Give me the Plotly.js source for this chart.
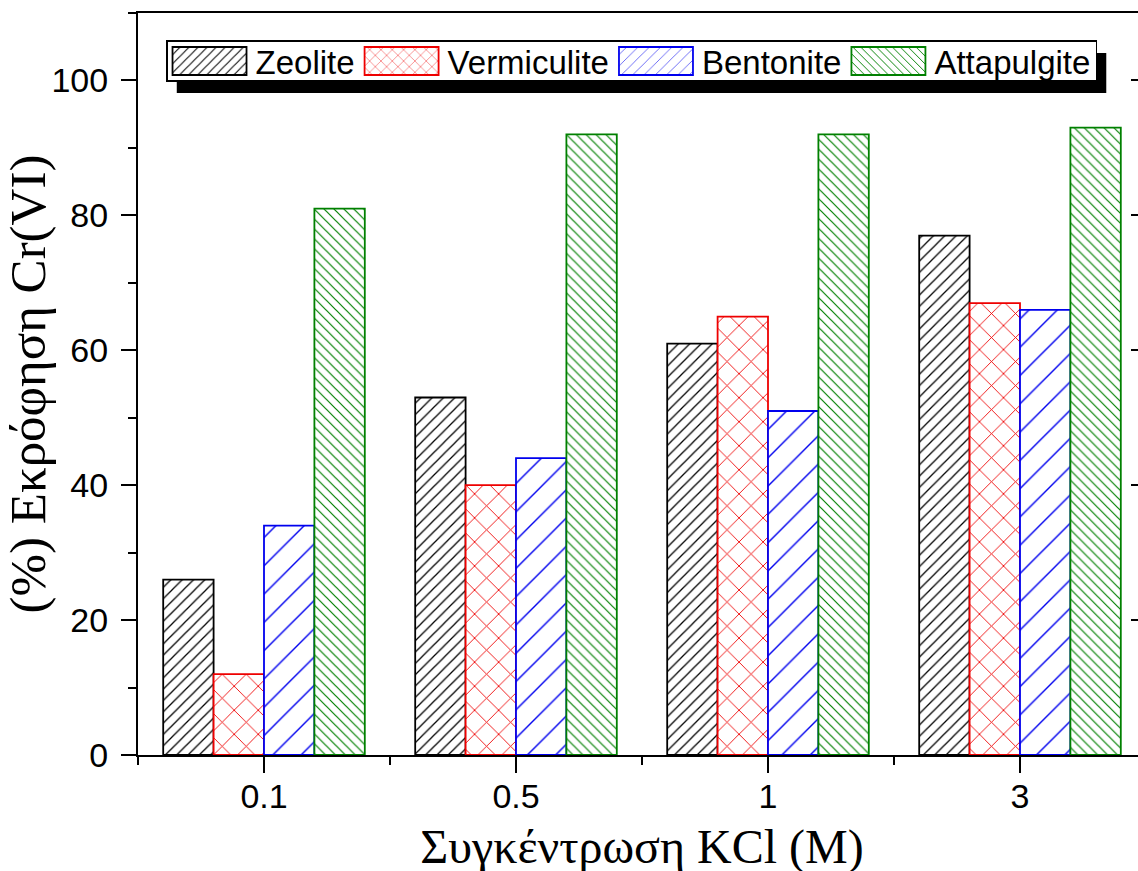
<!DOCTYPE html>
<html>
<head>
<meta charset="utf-8">
<script src="https://cdn.plot.ly/plotly-3.0.1.min.js"></script>
<style>
html,body{margin:0;padding:0;overflow:hidden;background:#fff;}
#chart{width:1146px;height:874px;}
</style>
</head>
<body>
<div id="chart"></div>
<script>
const categories = ["0.1", "0.5", "1", "3"];
const seriesNames = ["Zeolite", "Vermiculite", "Bentonite", "Attapulgite"];
const zeolite = [26, 53, 61, 77];
const vermiculite = [12, 40, 65, 67];
const bentonite = [34, 44, 51, 66];
const attapulgite = [81, 92, 92, 93];
const yTicks = [0, 20, 40, 60, 80, 100];

const seriesValues = [zeolite, vermiculite, bentonite, attapulgite];
const colors = ["#000000", "#ee0000", "#0000ee", "#008000"];
const shapes = ["/", "x", "/", "\\"];
const sizes = [8, 17, 20, 7];
const solid = [0.16, 0.1, 0.07, 0.17];
const xIdx = categories.map((c, i) => i);

const traces = seriesValues.map((vals, k) => ({
  type: "bar",
  name: seriesNames[k],
  x: xIdx,
  y: vals,
  marker: {
    color: "#ffffff",
    line: {color: colors[k], width: 1.8},
    pattern: {shape: shapes[k], fgcolor: colors[k], bgcolor: "#ffffff", size: sizes[k], solidity: solid[k], fgopacity: 1}
  }
}));

// invisible helper to host the right-hand axis
traces.push({type: "scatter", x: [], y: [], yaxis: "y2", showlegend: false, hoverinfo: "skip"});

const sans = "Liberation Sans, Arial, sans-serif";
const serif = "Liberation Serif, Times New Roman, serif";

const layout = {
  width: 1146, height: 874,
  margin: {l: 138, r: 0, t: 13, b: 119},
  paper_bgcolor: "#ffffff", plot_bgcolor: "#ffffff",
  barmode: "group", bargap: 0.2, bargroupgap: 0,
  showlegend: true,
  legend: {
    orientation: "h", x: 0.0278, y: 0.975, xanchor: "left", yanchor: "top",
    bgcolor: "#ffffff", bordercolor: "#000000", borderwidth: 1.5,
    font: {family: sans, size: 33, color: "#000"},
    itemwidth: 78, tracegroupgap: 0, traceorder: "normal"
  },
  xaxis: {
    range: [-0.5, 3.5], tickmode: "array", tickvals: xIdx, ticktext: categories,
    showline: true, linecolor: "#000", linewidth: 2, mirror: true,
    ticks: "outside", ticklen: 16, tickwidth: 2, tickcolor: "#000",
    minor: {tickmode: "linear", tick0: 0.5, dtick: 1, ticks: "outside", ticklen: 8, tickwidth: 2, tickcolor: "#000"},
    showgrid: false, zeroline: false, ticklabelstandoff: -6,
    tickfont: {family: sans, size: 34, color: "#000"},
    title: {text: "Συγκέντρωση KCl (M)", font: {family: serif, size: 48, color: "#000"}, standoff: 24},
    automargin: false
  },
  yaxis: {
    range: [0, 110], tickmode: "array", tickvals: yTicks,
    showline: true, linecolor: "#000", linewidth: 2,
    ticks: "outside", ticklen: 15, tickwidth: 2, tickcolor: "#000",
    minor: {tickmode: "linear", tick0: 0, dtick: 10, ticks: "outside", ticklen: 8, tickwidth: 2, tickcolor: "#000"},
    showgrid: false, zeroline: false, ticklabelstandoff: 6,
    tickfont: {family: sans, size: 34, color: "#000"},
    title: {text: "(%) Εκρόφηση Cr(VI)", font: {family: serif, size: 51, color: "#000"}, standoff: 10},
    automargin: false
  },
  yaxis2: {
    overlaying: "y", side: "right", anchor: "x", range: [0, 110],
    tickmode: "array", tickvals: yTicks, showticklabels: false,
    showline: true, linecolor: "#000", linewidth: 2,
    ticks: "inside", ticklen: 15, tickwidth: 2, tickcolor: "#000",
    minor: {tickmode: "linear", tick0: 0, dtick: 10, ticks: "inside", ticklen: 8, tickwidth: 2, tickcolor: "#000"},
    showgrid: false, zeroline: false
  },
  shapes: []
};

const BOX_H = 40;     // visible legend box height
const gd = document.getElementById("chart");
let trim = 0;
Plotly.newPlot(gd, traces, layout, {staticPlot: true, displayModeBar: false}).then(() => {
  const bg = gd.querySelector(".legend .bg");
  const fl = gd._fullLayout;
  if (bg) {
    const r = bg.getBoundingClientRect();
    trim = Math.max(0, (r.height - BOX_H) / 2);
    const top = r.top + trim, bottom = r.bottom - trim;
    const W = fl._size.w, H = fl._size.h, L = fl._size.l, T = fl._size.t;
    const dx = 10, dy = 12;
    const shadow = {
      type: "rect", xref: "paper", yref: "paper", layer: "above",
      x0: (r.left + dx - L) / W, x1: (r.right + dx - L) / W,
      y0: 1 - (bottom + dy - T) / H, y1: 1 - (top + dy - T) / H,
      fillcolor: "#000", line: {width: 0}
    };
    return Plotly.relayout(gd, {shapes: [shadow]});
  }
}).then(() => {
  const bg = gd.querySelector(".legend .bg");
  if (bg && trim > 0) {
    const y = parseFloat(bg.getAttribute("y") || 0);
    const h = parseFloat(bg.getAttribute("height"));
    bg.setAttribute("y", y + trim);
    bg.setAttribute("height", h - 2 * trim);
  }
  gd.querySelectorAll(".legend .legendpoints path").forEach(p => {
    p.setAttribute("d", "M35,14H-39V-14H35Z");
  });
});
</script>
</body>
</html>
